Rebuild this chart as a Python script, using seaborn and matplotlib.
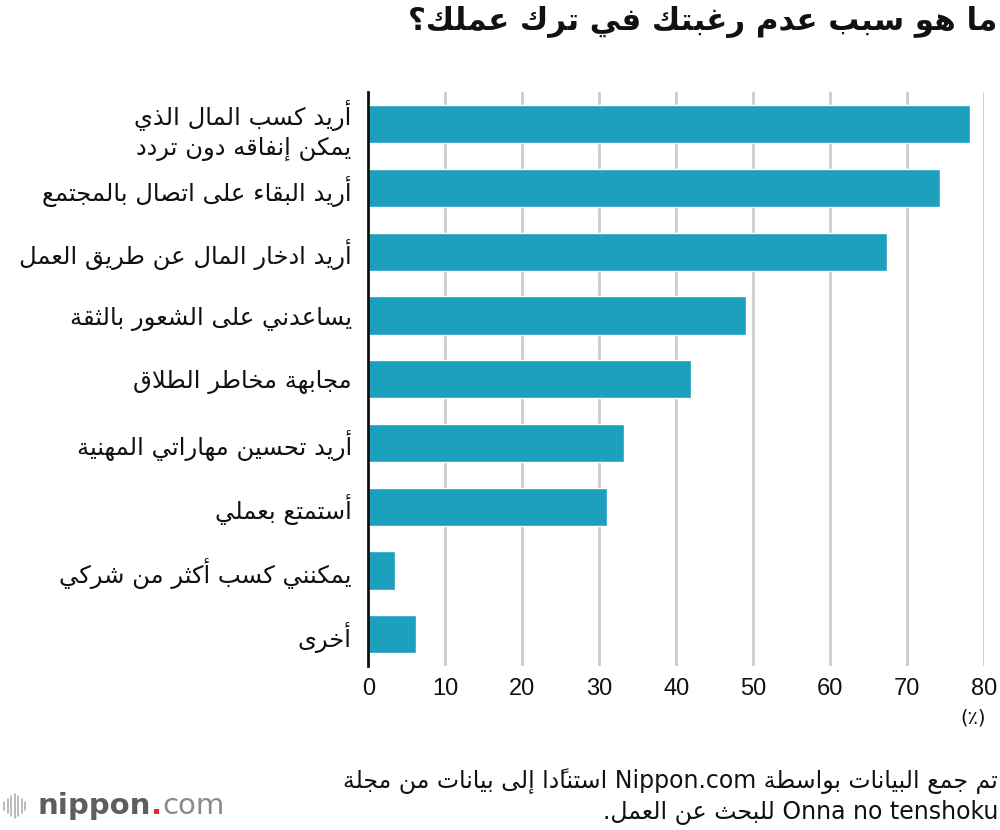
import re
import matplotlib
matplotlib.use("Agg")
import matplotlib.pyplot as plt
from matplotlib.lines import Line2D
import pandas as pd
import seaborn as sns

# data (percent)
reasons = [
    "أريد كسب المال الذي\nيمكن إنفاقه دون تردد",
    "أريد البقاء على اتصال بالمجتمع",
    "أريد ادخار المال عن طريق العمل",
    "يساعدني على الشعور بالثقة",
    "مجابهة مخاطر الطلاق",
    "أريد تحسين مهاراتي المهنية",
    "أستمتع بعملي",
    "يمكنني كسب أكثر من شركي",
    "أخرى",
]
shares = [78.1, 74.3, 67.4, 49.1, 41.9, 33.2, 31.0, 3.5, 6.2]
x_ticks = [0, 10, 20, 30, 40, 50, 60, 70, 80]

title = "ما هو سبب عدم رغبتك في ترك عملك؟"
unit = "(٪)"
source_lines = [
    "تم جمع البيانات بواسطة Nippon.com استنادًا إلى بيانات من مجلة",
    "Onna no tenshoku للبحث عن العمل.",
]

# --- minimal arabic shaping + rtl ordering (matplotlib has no bidi) ---
# letter: (isolated, final, initial, medial); 2-tuples are right-joining only
FORMS = {
    'ء': (0xFE80,), 'آ': (0xFE81, 0xFE82), 'أ': (0xFE83, 0xFE84),
    'ؤ': (0xFE85, 0xFE86), 'إ': (0xFE87, 0xFE88),
    'ئ': (0xFE89, 0xFE8A, 0xFE8B, 0xFE8C), 'ا': (0xFE8D, 0xFE8E),
    'ب': (0xFE8F, 0xFE90, 0xFE91, 0xFE92), 'ة': (0xFE93, 0xFE94),
    'ت': (0xFE95, 0xFE96, 0xFE97, 0xFE98), 'ث': (0xFE99, 0xFE9A, 0xFE9B, 0xFE9C),
    'ج': (0xFE9D, 0xFE9E, 0xFE9F, 0xFEA0), 'ح': (0xFEA1, 0xFEA2, 0xFEA3, 0xFEA4),
    'خ': (0xFEA5, 0xFEA6, 0xFEA7, 0xFEA8), 'د': (0xFEA9, 0xFEAA),
    'ذ': (0xFEAB, 0xFEAC), 'ر': (0xFEAD, 0xFEAE), 'ز': (0xFEAF, 0xFEB0),
    'س': (0xFEB1, 0xFEB2, 0xFEB3, 0xFEB4), 'ش': (0xFEB5, 0xFEB6, 0xFEB7, 0xFEB8),
    'ص': (0xFEB9, 0xFEBA, 0xFEBB, 0xFEBC), 'ض': (0xFEBD, 0xFEBE, 0xFEBF, 0xFEC0),
    'ط': (0xFEC1, 0xFEC2, 0xFEC3, 0xFEC4), 'ظ': (0xFEC5, 0xFEC6, 0xFEC7, 0xFEC8),
    'ع': (0xFEC9, 0xFECA, 0xFECB, 0xFECC), 'غ': (0xFECD, 0xFECE, 0xFECF, 0xFED0),
    'ف': (0xFED1, 0xFED2, 0xFED3, 0xFED4), 'ق': (0xFED5, 0xFED6, 0xFED7, 0xFED8),
    'ك': (0xFED9, 0xFEDA, 0xFEDB, 0xFEDC), 'ل': (0xFEDD, 0xFEDE, 0xFEDF, 0xFEE0),
    'م': (0xFEE1, 0xFEE2, 0xFEE3, 0xFEE4), 'ن': (0xFEE5, 0xFEE6, 0xFEE7, 0xFEE8),
    'ه': (0xFEE9, 0xFEEA, 0xFEEB, 0xFEEC), 'و': (0xFEED, 0xFEEE),
    'ى': (0xFEEF, 0xFEF0), 'ي': (0xFEF1, 0xFEF2, 0xFEF3, 0xFEF4),
}
LAM_ALEF = {'ا': (0xFEFB, 0xFEFC), 'أ': (0xFEF7, 0xFEF8),
            'إ': (0xFEF9, 0xFEFA), 'آ': (0xFEF5, 0xFEF6)}


def is_mark(c):
    return '\u064B' <= c <= '\u065F' or c == '\u0670'


def shape(s):
    # merge lam + alef first
    units = []
    i = 0
    while i < len(s):
        c = s[i]
        if c == 'ل' and i + 1 < len(s) and s[i + 1] in LAM_ALEF:
            units.append(('LA', s[i + 1]))
            i += 2
        else:
            units.append(('C', c))
            i += 1

    def joins_next(u):
        if u[0] == 'LA':
            return False
        f = FORMS.get(u[1])
        return f is not None and len(f) == 4

    def joins_prev(u):
        if u[0] == 'LA':
            return True
        f = FORMS.get(u[1])
        return f is not None and len(f) >= 2

    bases = [k for k, u in enumerate(units) if not (u[0] == 'C' and is_mark(u[1]))]
    out = [u[1] for u in units]
    for n, k in enumerate(bases):
        u = units[k]
        prev = units[bases[n - 1]] if n > 0 else None
        nxt = units[bases[n + 1]] if n + 1 < len(bases) else None
        p = prev is not None and joins_next(prev)
        q = nxt is not None and joins_prev(nxt)
        if u[0] == 'LA':
            out[k] = chr(LAM_ALEF[u[1]][1 if p else 0])
            continue
        f = FORMS.get(u[1])
        if f is None:
            continue
        if len(f) == 4:
            idx = 3 if (p and q) else 1 if p else 2 if q else 0
        elif len(f) == 2:
            idx = 1 if p else 0
        else:
            idx = 0
        out[k] = chr(f[idx])
    return ''.join(out)


MIRROR = {'(': ')', ')': '(', '[': ']', ']': '['}


def rtl_reverse(seg):
    clusters = []
    for c in seg:
        if clusters and is_mark(c):
            clusters[-1] += c
        else:
            clusters.append(MIRROR.get(c, c))
    return ''.join(reversed(clusters))


def ar(text):
    lines = []
    for line in text.split('\n'):
        s = shape(line)
        parts = re.split(r'([A-Za-z0-9]+(?:[ .][A-Za-z0-9]+)*)', s)
        vis = []
        for k, part in enumerate(parts):
            vis.append(part if k % 2 else rtl_reverse(part))
        lines.append(''.join(reversed(vis)))
    return '\n'.join(lines)


# --- plot ---
sns.set_theme(style="white")
plt.rcParams['font.family'] = ['DejaVu Sans']

df = pd.DataFrame({"reason": [ar(r) for r in reasons], "share": shares})

fig = plt.figure(figsize=(10, 8.3), dpi=100)
ax = fig.add_axes([0.3683, 0.1976, 0.616, 0.691])

sns.barplot(data=df, x="share", y="reason", orient="h", color="#1ca0bd",
            width=0.6, saturation=1, ax=ax)

ax.set_xlim(0, 80)
ax.set_ylim(len(shares) - 0.5, -0.5)
ax.set_xticks(x_ticks)
ax.set_xticklabels([str(t) for t in x_ticks], fontsize=17,
                   fontfamily=['Liberation Sans Narrow', 'Liberation Sans'])
ax.set_yticks(range(len(shares)))
ax.set_yticklabels(df["reason"], fontsize=17.5, linespacing=1.3,
                   ha='right', multialignment='right')
ax.set_xlabel("")
ax.set_ylabel("")
ax.tick_params(axis='x', length=0, pad=9, colors='#111111')
ax.tick_params(axis='y', length=0, pad=12, colors='#111111')

ax.xaxis.grid(True, color="#cccccc", linewidth=2)
ax.yaxis.grid(False)
ax.set_axisbelow(True)
for side in ["top", "right", "bottom"]:
    ax.spines[side].set_visible(False)
ax.spines["left"].set_color("#111111")
ax.spines["left"].set_linewidth(2)
ax.spines["left"].set_zorder(5)

fig.text(0.997, 1 - 22 / 830, ar(title), ha='right', va='center',
         fontsize=22.2, fontweight='bold', color='#111111')
fig.text(0.986, 1 - 718 / 830, ar(unit), ha='right', va='center',
         fontsize=14, color='#111111')

for k, line in enumerate(source_lines):
    fig.text(0.998, 1 - (781 + 31 * k) / 830, ar(line), ha='right', va='center',
             fontsize=17, color='#111111')

# nippon.com logo
renderer = fig.canvas.get_renderer()
t1 = fig.text(0.038, 1 - 806 / 830, "nippon", fontsize=21, fontweight='bold',
              color='#5e5e5e', va='center', ha='left')
bb = t1.get_window_extent(renderer).transformed(fig.transFigure.inverted())
t2 = fig.text(bb.x1, 1 - 806 / 830, ".", fontsize=21, fontweight='bold',
              color='#e8262f', va='center', ha='left')
bb = t2.get_window_extent(renderer).transformed(fig.transFigure.inverted())
fig.text(bb.x1, 1 - 806 / 830, "com", fontsize=21, color='#8a8a8a',
         va='center', ha='left')
bar_h = [8, 14, 20, 24, 20, 14, 8]
for k, h in enumerate(bar_h):
    x = (4 + 3.5 * k) / 1000
    y0 = 1 - 806 / 830
    fig.add_artist(Line2D([x, x], [y0 - h / 2 / 830, y0 + h / 2 / 830],
                          transform=fig.transFigure, color='#b0b0b0', lw=1.2))

fig.savefig("out.png", dpi=100)
